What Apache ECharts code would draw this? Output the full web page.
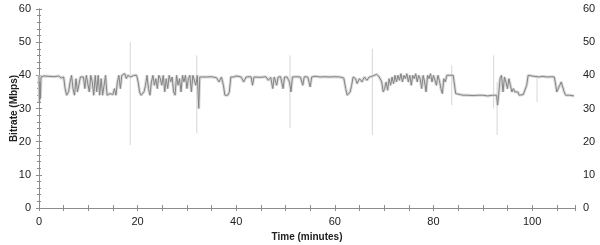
<!DOCTYPE html>
<html><head><meta charset="utf-8">
<script src="https://cdn.jsdelivr.net/npm/echarts@6/dist/echarts.min.js"></script>
<style>html,body{margin:0;padding:0;background:#fff}#c{width:600px;height:245px}</style>
</head><body><div id="c"></div>
<script>
// Time (minutes) and bitrate (Mbps) of the main trace
const times = [0,0.1,0.2,0.3,0.4,0.6,1,2,3,4,4.5,5,5.3,5.6,6,6.3,6.6,6.9,7.2,7.5,7.8,8.1,8.4,8.7,9,9.3,9.6,9.9,10.2,10.5,10.8,11.1,11.4,11.7,12,12.3,12.6,12.9,13.2,13.5,13.8,14.1,14.4,14.7,15,15.3,15.6,15.9,16.2,16.5,16.8,17.1,17.4,17.7,18,18.3,18.6,18.9,19.2,19.5,19.8,20.1,20.4,20.7,21,21.3,21.6,21.9,22.2,22.5,22.8,23.1,23.4,23.7,24,24.3,24.6,24.9,25.2,25.5,25.8,26.1,26.4,26.7,27,27.3,27.6,27.9,28.2,28.5,28.8,29.1,29.4,29.7,30,30.3,30.6,30.9,31.2,31.5,31.8,32.1,32.4,32.6,33,34,35,36,36.5,37,37.4,37.7,38,38.3,38.6,38.9,39.5,40,41,41.5,42,43,43.3,43.6,44,45,46,46.5,47,47.4,47.7,48.2,48.5,49,49.5,49.8,50.3,50.8,51.1,51.4,52,53,53.5,53.8,54.5,55,55.3,56,57,58,59,60,61,61.8,62.2,62.5,62.8,63.1,63.4,63.7,64.2,64.5,65,65.5,66,66.5,67,67.5,68,68.5,69,69.5,69.8,70.1,70.4,70.7,71,71.3,71.6,71.9,72.2,72.5,72.8,73.1,73.4,73.7,74,74.3,74.6,74.9,75.2,75.5,75.8,76.1,76.4,76.7,77,77.3,77.6,77.9,78.2,78.5,78.8,79.1,79.4,79.7,80,80.3,80.6,80.9,81.2,81.5,81.8,82.1,82.4,82.7,83,83.3,83.6,84,84.3,84.5,84.8,86,87,88,89,90,91,92,92.8,93,93.2,93.5,93.8,94.1,94.4,94.7,95,95.3,95.6,95.9,96.2,96.5,96.8,97.1,97.4,97.8,98.2,98.6,98.9,99.2,99.5,100,101,101.5,102,103,104,104.5,104.8,105,105.3,105.6,105.9,106.2,106.5,106.8,107.2,107.6,108,108.5];
const bitrate = [40,32,38,33,39.5,39.8,39.8,39.7,39.6,39.8,39.2,39.5,36,34,35,38,40,36,34,39,35,34.5,39.5,40,39.5,36,40,39.5,35,40,38,34,40,35,40,34,39,34,34.5,40,34,34,34.5,34,34.2,36,34,38,40,36,40,39.5,40.5,39,40,40,39.5,40,40,39.5,40,38,35,34,34,35,37,40,36,34,38,40,37,39,36,40,39,37,40,35,39,36,40,38,39.5,35,34,40,37,39,35,40,38,40,36,39,40,35,40,39.5,37,40,30,39.5,39.8,39.5,39.6,39.3,38,39.5,37,34,34.5,34,35,39.5,39.5,39.8,39.5,38,39.5,39.6,37,39.5,39.6,39.4,39.6,38.5,39.4,36,39.5,37,39.5,39.6,36,39.5,39.5,38,35,39.5,39.6,39.5,37,39.6,39.5,36.5,39.5,39.7,39.5,39.6,39.5,39.6,39.5,39.2,36,34,34.5,35,37,39.5,39,37.5,39,38,39.5,38.5,39.5,39.7,40,40.3,39.5,38,35,36,38,35.5,39,37,39.5,37.5,40,38,40,38.5,40.5,38,40,39,40.5,38,40,37,40,39,40.5,38,40,39,36,40,38,35,40,39,40.5,38,40,39.5,37,40,38.5,36,34.5,39,38,40,39.5,40,40.2,40,40,34.5,34,34,34,33.9,34,34,33.8,34,34,31,34,39,40,35,39.5,38,36,39,37,35,36,35,35.5,35,34,34,34.2,34,37,40,39.5,39.8,39.6,39.5,39.7,39.5,39.6,39.5,37,35,34.5,37,38,37.5,35,34,33.5,34,33.5,33.8];
// Thin short spikes: time, low, high (Mbps)
const spikeTimes = [18.5,32.0,50.9,67.6,83.7,92.2,92.9,101.0];
const spikeLow   = [19,22.5,24,22,31,30,22,32];
const spikeHigh  = [50,46,46,48,43,46,38,40];
// Axis ticks
const xTicks = [0,20,40,60,80,100];
const yTicks = [0,10,20,30,40,50,60];

const main = times.map((t,i)=>[t,bitrate[i]]);
const spikes = [];
spikeTimes.forEach((t,i)=>{spikes.push([t,spikeLow[i]]);spikes.push([t,spikeHigh[i]]);spikes.push([t,'-']);});

const axisColor = '#8c8c8c';
const FONT = 'Liberation Sans, Arial, sans-serif';
const lab = {color:'#222',fontFamily:FONT,fontSize:11};
const nameStyle = {color:'#222',fontWeight:'bold',fontSize:10,fontFamily:FONT};
const common = {
  axisLine:{show:true,lineStyle:{color:axisColor,width:1}},
  splitLine:{show:false}
};
const chart = echarts.init(document.getElementById('c'),null,{renderer:'canvas'});
chart.setOption({
  animation:false,
  backgroundColor:'#fff',
  grid:{left:39,right:25,top:9,bottom:37,containLabel:false,outerBoundsMode:'none'},
  xAxis:[
    Object.assign({type:'value',position:'bottom',min:0,max:108.7,interval:20,
      axisTick:{show:true,inside:true,length:3,lineStyle:{color:axisColor}},
      minorTick:{show:true,splitNumber:4,length:3,lineStyle:{color:axisColor}},
      axisLabel:Object.assign({margin:8,showMaxLabel:false,formatter:v=>xTicks.includes(v)?String(v):''},lab),
      name:'Time (minutes)',nameLocation:'middle',nameGap:24,nameMoveOverlap:false,nameTextStyle:nameStyle},common),
    Object.assign({type:'value',position:'top',min:0,max:108.7,interval:20,
      axisTick:{show:true,inside:true,length:3,lineStyle:{color:axisColor}},
      minorTick:{show:true,splitNumber:4,length:3,lineStyle:{color:axisColor}},
      axisLabel:{show:false}},common)
  ],
  yAxis:[
    Object.assign({type:'value',position:'left',min:0,max:60,interval:10,
      axisTick:{show:true,inside:false,length:3,lineStyle:{color:axisColor}},
      minorTick:{show:true,splitNumber:5,length:2,lineStyle:{color:axisColor}},
      axisLabel:Object.assign({margin:8,formatter:v=>yTicks.includes(v)?String(v):''},lab),
      name:'Bitrate (Mbps)',nameLocation:'middle',nameGap:20,nameRotate:90,nameMoveOverlap:false,nameTextStyle:nameStyle},common),
    Object.assign({type:'value',position:'right',min:0,max:60,interval:10,
      axisTick:{show:true,inside:false,length:3,lineStyle:{color:axisColor}},
      minorTick:{show:true,splitNumber:5,length:2,lineStyle:{color:axisColor}},
      axisLabel:Object.assign({margin:8,formatter:v=>yTicks.includes(v)?String(v):''},lab)},common)
  ],
  series:[
    {type:'line',data:spikes,showSymbol:false,connectNulls:false,
      lineStyle:{color:'#d6d6d6',width:1},z:1,silent:true},
    {type:'line',data:main,showSymbol:false,
      lineStyle:{color:'#dadada',width:3},z:2,silent:true},
    {type:'line',data:main,showSymbol:false,
      lineStyle:{color:'#858585',width:1},z:3,silent:true}
  ]
});
</script></body></html>
